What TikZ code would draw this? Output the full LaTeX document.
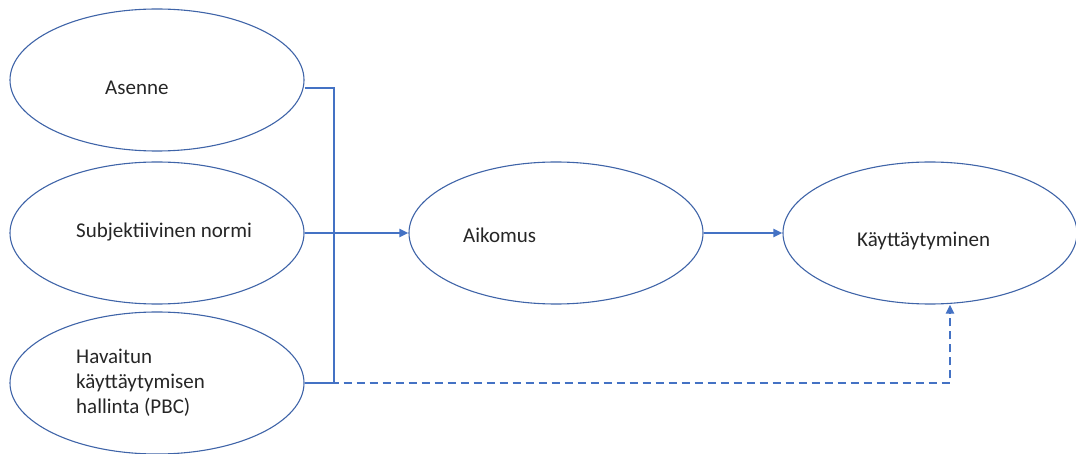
\documentclass[tikz,border=0pt]{standalone}
\usepackage{fontspec}
\setmainfont{Carlito}
\usetikzlibrary{shapes.geometric,arrows.meta}
\definecolor{rim}{HTML}{3F64A8}
\definecolor{wire}{HTML}{4472C4}
\tikzset{
  bubble/.style={draw=rim, line width=1.1pt, ellipse, minimum width=294pt, minimum height=142pt, inner sep=0pt},
  caption/.style={font=\fontsize{21}{25}\selectfont, text=black!85, inner sep=0pt, align=left},
  link/.style={draw=wire, line width=2.2pt},
  tip/.style={-{Triangle[length=9pt,width=8pt]}},
  dashlink/.style={link, dash pattern=on 8pt off 5pt}
}
\begin{document}
\begin{tikzpicture}[x=1pt,y=-1pt]
\useasboundingbox (0,0) rectangle (1076,454);
% ellipses
\node[bubble] (att) at (157,80) {};
\node[bubble] (norm) at (157,233) {};
\node[bubble] (pbc) at (157,383) {};
\node[bubble] (int) at (556,233) {};
\node[bubble] (beh) at (930,233) {};
% labels
\node[caption, anchor=west] (attT) at (105,88) {Asenne};
\node[caption, anchor=west] (normT) at (76,232) {Subjektiivinen normi};
\node[caption, anchor=west] (pbcT) at (76,383) {Havaitun\\käyttäytymisen\\hallinta (PBC)};
\node[caption, anchor=west] (intT) at (463,235) {Aikomus};
\node[caption, anchor=west] (behT) at (857,241) {Käyttäytyminen};
% connectors
\coordinate (jTop) at (334,88);
\coordinate (jBot) at (334,383);
\coordinate (bend) at (950,383);
\draw[link] (att.east |- jTop) -- (jTop) -- (jBot) -- (pbc.east |- jBot);
\draw[link, tip] (norm.east) -- (int.west);
\draw[link, tip] (int.east) -- (beh.west);
\draw[dashlink, tip] (pbc.east |- jBot) -- (bend) -- (bend |- beh.south);
\end{tikzpicture}
\end{document}
